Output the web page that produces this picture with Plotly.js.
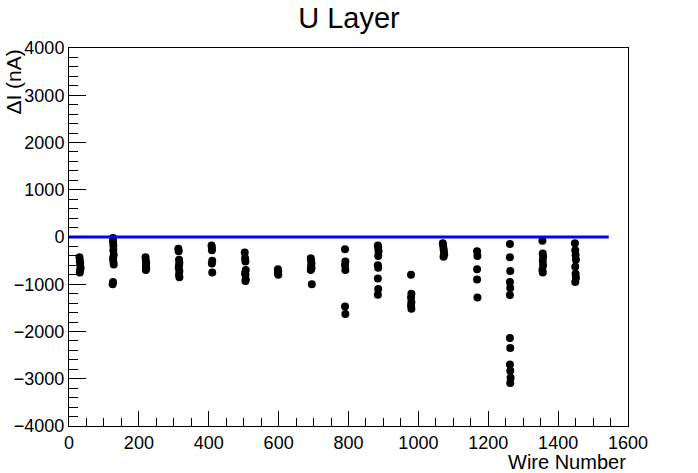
<!DOCTYPE html>
<html>
<head>
<meta charset="utf-8">
<script src="https://cdn.plot.ly/plotly-3.0.1.min.js"></script>
<style>html,body{margin:0;padding:0;background:#fff;}#chart{width:698px;height:473px;}</style>
</head>
<body>
<div id="chart"></div>
<script>
// Wire number of each measured point
const wire = [
  30,31,32,33,32,31,
  126,126,127,127,128,126,127,128,126,125,
  219,220,221,220,221,220,
  313,314,315,316,315,314,316,315,316,
  408,409,409,410,409,410,
  503,504,505,506,504,505,506,505,
  598,599,598,599,
  692,693,694,693,694,692,695,
  790,791,790,791,790,791,
  884,885,886,885,884,885,884,885,884,
  979,980,979,980,979,980,
  1070,1071,1072,1073,1074,1072,
  1168,1169,1168,1168,1169,
  1262,1262,1263,1262,1263,1262,1262,1263,1262,1263,1264,1263,
  1355,1356,1357,1356,1357,1355,1356,
  1448,1449,1450,1451,1449,1450,1451,1449
];
// Current change (nA) of each point
const deltaI = [
  -430,-500,-560,-650,-700,-750,
  -20,-100,-180,-280,-380,-450,-520,-580,-950,-1000,
  -430,-500,-560,-620,-660,-700,
  -250,-300,-480,-550,-600,-650,-720,-800,-850,
  -180,-230,-280,-500,-560,-750,
  -330,-450,-520,-700,-760,-800,-900,-930,
  -680,-720,-760,-800,
  -450,-500,-560,-620,-660,-700,-1000,
  -260,-520,-600,-700,-1470,-1630,
  -180,-230,-300,-400,-600,-650,-880,-1100,-1220,
  -800,-1200,-1280,-1380,-1450,-1520,
  -130,-180,-250,-300,-370,-420,
  -300,-400,-680,-900,-1280,
  -150,-430,-720,-950,-1080,-1230,-2140,-2350,-2700,-2830,-2980,-3090,
  -80,-350,-420,-500,-600,-700,-750,
  -130,-280,-380,-480,-630,-780,-860,-950
];
// Reference line
const refX = [0, 1545];
const refY = [0, 0];

const xRange = [0, 1600];
const yRange = [-4000, 4000];

const FONT = 'Liberation Sans, Arial, sans-serif';

const traces = [
  {x: wire, y: deltaI, type: 'scatter', mode: 'markers',
   marker: {color: '#000', size: 8}, hoverinfo: 'x+y'},
  {x: refX, y: refY, type: 'scatter', mode: 'lines',
   line: {color: '#0000ff', width: 3}, hoverinfo: 'skip'}
];

const layout = {
  width: 698, height: 473,
  margin: {l: 69, r: 70, t: 48, b: 47},
  paper_bgcolor: '#fff', plot_bgcolor: '#fff',
  showlegend: false,
  font: {family: FONT, color: '#000'},
  title: {text: 'U Layer', font: {family: FONT, size: 29, color: '#000'},
          x: 0.5, xanchor: 'center', y: 0.962, yanchor: 'middle'},
  xaxis: {range: xRange, dtick: 200, tick0: 0, ticks: 'inside', ticklen: 15,
          tickcolor: '#000', tickwidth: 1, showgrid: false, zeroline: false,
          showline: true, linecolor: '#000', linewidth: 1, mirror: true,
          ticklabelstandoff: 0,
          tickfont: {family: FONT, size: 18, color: '#000'},
          minor: {dtick: 50, ticks: 'inside', ticklen: 8, tickcolor: '#000', showgrid: false}},
  yaxis: {range: yRange, dtick: 1000, tick0: 0, ticks: 'inside', ticklen: 17,
          tickcolor: '#000', tickwidth: 1, showgrid: false, zeroline: false,
          showline: true, linecolor: '#000', linewidth: 1, mirror: true,
          tickfont: {family: FONT, size: 18, color: '#000'},
          minor: {dtick: 200, ticks: 'inside', ticklen: 9, tickcolor: '#000', showgrid: false}},
  annotations: [
    {text: 'Wire Number', xref: 'paper', yref: 'paper', x: 1, y: -0.062,
     xanchor: 'right', yanchor: 'top', showarrow: false,
     font: {family: FONT, size: 20, color: '#000'}},
    {text: 'ΔI (nA)', xref: 'paper', yref: 'paper', x: -0.1, y: 1,
     xanchor: 'center', yanchor: 'top', textangle: -90, showarrow: false,
     font: {family: FONT, size: 21, color: '#000'}}
  ]
};

Plotly.newPlot('chart', traces, layout, {displayModeBar: false, staticPlot: true});
</script>
</body>
</html>
